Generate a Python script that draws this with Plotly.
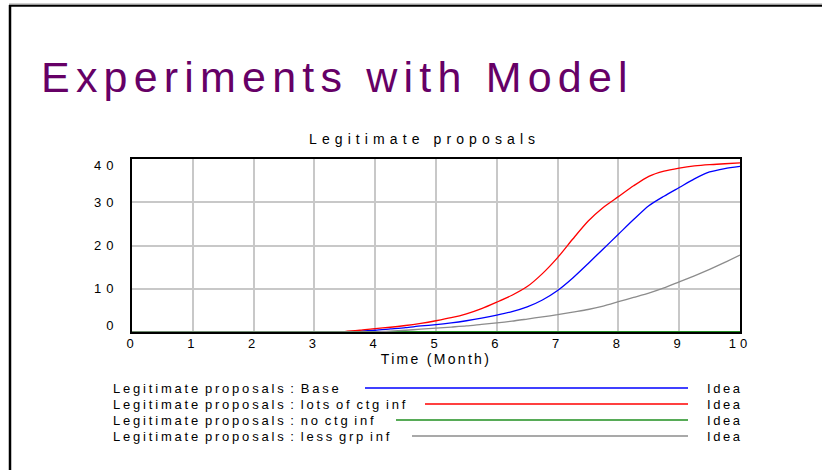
import plotly.graph_objects as go

# ---- data ----
time = [0, 0.5, 1, 1.5, 2, 2.5, 3, 3.25, 3.5, 3.75, 4, 4.25, 4.5, 4.75, 5, 5.25, 5.5, 5.75, 6, 6.25, 6.5,
        6.75, 7, 7.25, 7.5, 7.75, 8, 8.25, 8.5, 8.75, 9, 9.25, 9.5, 9.75, 10]
base = [0, 0, 0, 0, 0, 0, 0, 0, 0.05, 0.2, 0.4, 0.7, 1.0, 1.4, 1.7, 2.1, 2.6, 3.2, 3.9, 4.7, 5.8,
        7.4, 9.6, 12.5, 15.8, 19.2, 22.6, 26.0, 29.2, 31.4, 33.4, 35.4, 37.0, 37.8, 38.3]
lots_ctg = [0, 0, 0, 0, 0, 0, 0, 0, 0.1, 0.4, 0.8, 1.1, 1.5, 2.0, 2.6, 3.3, 4.2, 5.4, 6.9, 8.5, 10.5,
            13.5, 17.2, 21.5, 25.6, 28.8, 31.3, 33.8, 36.0, 37.2, 37.9, 38.4, 38.7, 38.9, 39.1]
no_ctg = [0] * 35
less_grp = [0, 0, 0, 0, 0, 0, 0, 0, 0, 0, 0.05, 0.2, 0.4, 0.65, 0.9, 1.15, 1.4, 1.75, 2.1, 2.5, 3.0,
            3.5, 4.0, 4.6, 5.2, 6.0, 7.0, 8.0, 9.0, 10.2, 11.6, 13.0, 14.5, 16.1, 17.8]

series_names = ["Base", "lots of ctg inf", "no ctg inf", "less grp inf"]
series_values = [base, lots_ctg, no_ctg, less_grp]
series_colors = ["#0000ff", "#ff0000", "#1f8f1f", "#8c8c8c"]
units = "Idea"

x_ticks = list(range(0, 11))
y_ticks = [0, 10, 20, 30, 40]

slide_title = "Experiments with Model"
chart_title = "Legitimate proposals"
x_title = "Time (Month)"
var_name = "Legitimate proposals"

# ---- layout geometry (pixels) ----
W, H = 822, 470
L, R, T, B = 132, 82, 159, 138
PW, PH = W - L - R, H - T - B


def px(x):
    return (x - L) / PW


def py(y):
    return (H - B - y) / PH


def sp(text, s, ws=0, extra=""):
    return f'<span style="letter-spacing:{s}px;word-spacing:{ws}px{extra}">{text}</span>'


def ylabel(v):
    # Vensim keeps the end labels inside the plot frame
    shift = ""
    if v == y_ticks[-1]:
        shift = ";baseline-shift:-6px"
    elif v == y_ticks[0]:
        shift = ";baseline-shift:7px"
    return sp(str(v), 5, 0, shift)


FONT = "Liberation Sans, Arial, sans-serif"

fig = go.Figure()
for name, vals, col in zip(series_names, series_values, series_colors):
    fig.add_trace(go.Scatter(
        x=time, y=vals, mode="lines", name=name,
        line=dict(color=col, width=2.2 if name == "no ctg inf" else 1.3, shape="spline", smoothing=0.7),
        showlegend=False,
    ))

fig.update_layout(
    width=W, height=H,
    margin=dict(l=L, r=R, t=T, b=B),
    paper_bgcolor="white", plot_bgcolor="white",
    font=dict(family=FONT, color="black", size=13),
    xaxis=dict(
        range=[0, 10], tickvals=x_ticks, ticktext=[sp(str(v), 4) for v in x_ticks],
        showgrid=True, gridcolor="#c8c8c8", gridwidth=1.5,
        showline=True, linecolor="black", linewidth=2, mirror=True,
        zeroline=False, ticks="", tickfont=dict(size=13), ticklabelstandoff=-2,
        title=dict(text=sp(x_title, 2.3), font=dict(size=14), standoff=0),
    ),
    yaxis=dict(
        range=[0, 40], tickvals=y_ticks, ticktext=[ylabel(v) for v in y_ticks],
        showgrid=True, gridcolor="#c8c8c8", gridwidth=1.5,
        showline=True, linecolor="black", linewidth=2, mirror=True,
        zeroline=False, ticks="", tickfont=dict(size=13), ticklabelstandoff=9,
    ),
)

annotations = []
shapes = []

# slide title
annotations.append(dict(
    text=sp(slide_title, 6.2), x=px(39), y=py(77), xref="paper", yref="paper",
    xanchor="left", yanchor="middle", showarrow=False,
    font=dict(family=FONT, size=43, color="#660066"),
))
# chart title
annotations.append(dict(
    text=sp(chart_title, 5.1), x=px(307), y=py(139), xref="paper", yref="paper",
    xanchor="left", yanchor="middle", showarrow=False,
    font=dict(family=FONT, size=14, color="black"),
))

# custom Vensim-style legend
row_y = [388, 404, 420, 436]
line_start = [365, 425, 396, 412]
for name, col, yy, xs in zip(series_names, series_colors, row_y, line_start):
    annotations.append(dict(
        text=sp(f"{var_name} : {name}", 2.8, -2.5), x=px(111), y=py(yy), xref="paper", yref="paper",
        xanchor="left", yanchor="middle", showarrow=False, font=dict(family=FONT, size=13),
    ))
    annotations.append(dict(
        text=sp(units, 2.6), x=px(705), y=py(yy), xref="paper", yref="paper",
        xanchor="left", yanchor="middle", showarrow=False, font=dict(family=FONT, size=13),
    ))
    shapes.append(dict(type="line", xref="paper", yref="paper", x0=px(xs), x1=px(688),
                       y0=py(yy), y1=py(yy), line=dict(color=col, width=1.5)))

# slide border
shapes.append(dict(type="line", xref="paper", yref="paper", x0=px(9), x1=px(822),
                   y0=py(4), y1=py(4), line=dict(color="#a0a0a0", width=1)))
shapes.append(dict(type="line", xref="paper", yref="paper", x0=px(9), x1=px(822),
                   y0=py(5.8), y1=py(5.8), line=dict(color="black", width=2)))
shapes.append(dict(type="line", xref="paper", yref="paper", x0=px(10), x1=px(10),
                   y0=py(5), y1=py(470), line=dict(color="black", width=2.5)))

fig.update_layout(annotations=annotations, shapes=shapes)
fig.write_html(
    "out.html",
    config={"displayModeBar": False},
    post_script="document.body.style.margin='0';document.body.style.overflow='hidden';",
)
